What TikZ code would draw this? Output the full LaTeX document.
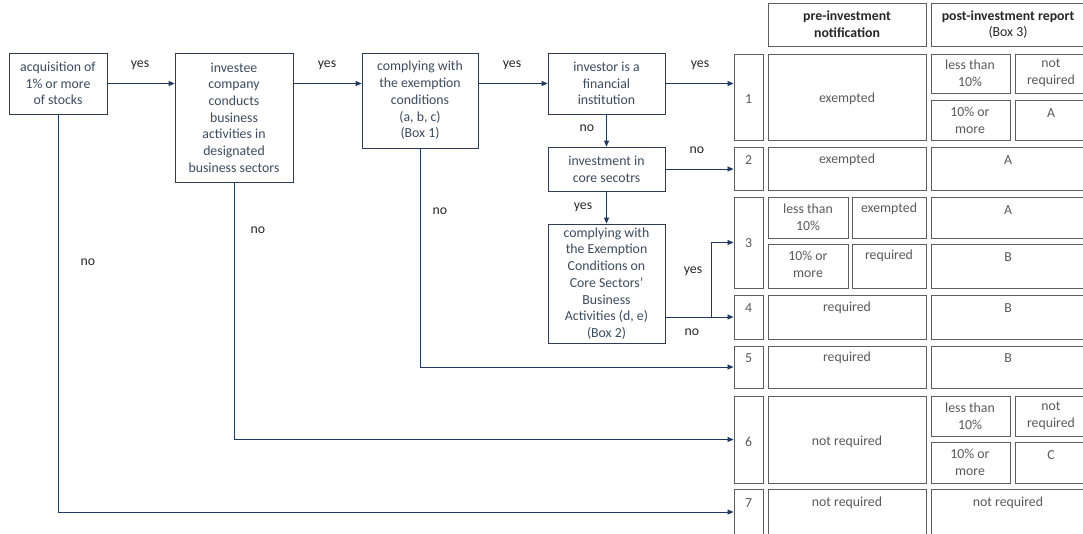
\documentclass[tikz,border=0pt]{standalone}
\usepackage{fontspec}
\setmainfont{Carlito}
\usetikzlibrary{arrows.meta,fit}
\definecolor{arrc}{HTML}{1F3864}
\definecolor{boxc}{HTML}{2E3B52}
\definecolor{flowtxt}{HTML}{3B4A5E}
\definecolor{tabtxt}{HTML}{595959}
\definecolor{tabline}{HTML}{5E5E5E}
\definecolor{labtxt}{HTML}{262626}
\newcommand\tcell[5]{\node[cell, fit={(#2,#3) (#4,#5)}] (#1) {};}
\begin{document}
\begin{tikzpicture}[x=1pt,y=-1pt,
  basefont/.style={font=\fontsize{13.8}{16.7}\selectfont},
  fbox/.style={basefont, draw=boxc, line width=0.8pt, align=center, inner sep=0pt, text=flowtxt},
  cell/.style={draw=tabline, line width=1pt, inner sep=0pt},
  ttxt/.style={basefont, align=center, inner sep=0pt, text=tabtxt},
  htxt/.style={basefont, align=center, inner sep=0pt, text=labtxt},
  lab/.style={basefont, inner sep=0pt, text=labtxt},
  arr/.style={draw=arrc, line width=0.8pt, -{Triangle[length=6pt,width=5pt]}}]
\useasboundingbox (0,0) rectangle (1083,533);
\clip (0,0) rectangle (1083,533);

% flow boxes
\node[fbox, minimum width=98pt, minimum height=61pt] (A) at (58,83.5) {acquisition of\\1\% or more\\of stocks};
\node[fbox, minimum width=118pt, minimum height=129pt] (B) at (234,117.5) {investee\\company\\conducts\\business\\activities in\\designated\\business sectors};
\node[fbox, minimum width=116pt, minimum height=95pt] (C) at (420,100.5) {complying with\\the exemption\\conditions\\(a, b, c)\\(Box 1)};
\node[fbox, minimum width=117pt, minimum height=61pt] (D) at (606.5,83.5) {investor is a\\financial\\institution};
\node[fbox, minimum width=117pt, minimum height=44pt] (E) at (606.5,169) {investment in\\core secotrs};
\node[fbox, minimum width=117pt, minimum height=119pt] (F) at (606.5,283.5) {complying with\\the Exemption\\Conditions on\\Core Sectors’\\Business\\Activities (d, e)\\(Box 2)};

% table cells
\tcell{hpre}{768}{3}{926}{46}
\tcell{hpost}{931}{3}{1090}{46}
\tcell{r1}{734}{54}{763}{140}
\tcell{r1p}{768}{54}{926}{140}
\tcell{r1a}{931}{54}{1010}{93}
\tcell{r1b}{1015}{54}{1090}{93}
\tcell{r1c}{931}{100}{1010}{140}
\tcell{r1d}{1015}{100}{1090}{140}
\tcell{r2}{734}{147}{763}{190}
\tcell{r2p}{768}{147}{926}{190}
\tcell{r2q}{931}{147}{1090}{190}
\tcell{r3}{734}{197}{763}{288}
\tcell{r3a}{768}{197}{848}{238}
\tcell{r3b}{852}{197}{926}{238}
\tcell{r3c}{768}{244}{848}{288}
\tcell{r3d}{852}{244}{926}{288}
\tcell{r3e}{931}{197}{1090}{238}
\tcell{r3f}{931}{244}{1090}{288}
\tcell{r4}{734}{295}{763}{339}
\tcell{r4p}{768}{295}{926}{339}
\tcell{r4q}{931}{295}{1090}{339}
\tcell{r5}{734}{346}{763}{388}
\tcell{r5p}{768}{346}{926}{388}
\tcell{r5q}{931}{346}{1090}{388}
\tcell{r6}{734}{396}{763}{483}
\tcell{r6p}{768}{396}{926}{483}
\tcell{r6a}{931}{396}{1010}{436}
\tcell{r6b}{1015}{396}{1090}{436}
\tcell{r6c}{931}{442}{1010}{483}
\tcell{r6d}{1015}{442}{1090}{483}
\tcell{r7}{734}{489}{763}{535}
\tcell{r7p}{768}{489}{926}{545}
\tcell{r7q}{931}{489}{1090}{545}

% table texts
\node[htxt] at (847,24.5) {\textbf{pre-investment}\\\textbf{notification}};
\node[htxt] at (1008,24.5) {\textbf{post-investment report}\\(Box 3)};
\node[ttxt] at (748.5,99) {1};
\node[ttxt] at (847,99) {exempted};
\node[ttxt] at (970,73) {less than\\10\%};
\node[ttxt] at (1051,73) {not\\required};
\node[ttxt] at (970,120.5) {10\% or\\more};
\node[ttxt] at (1051,113) {A};
\node[ttxt] at (748.5,160) {2};
\node[ttxt] at (847,160) {exempted};
\node[ttxt] at (1008,160) {A};
\node[ttxt] at (748.5,243) {3};
\node[ttxt] at (808,217) {less than\\10\%};
\node[ttxt] at (889,209) {exempted};
\node[ttxt] at (808,264.5) {10\% or\\more};
\node[ttxt] at (889,256) {required};
\node[ttxt] at (1008,210) {A};
\node[ttxt] at (1008,257) {B};
\node[ttxt] at (748.5,308) {4};
\node[ttxt] at (847,308) {required};
\node[ttxt] at (1008,308) {B};
\node[ttxt] at (748.5,358) {5};
\node[ttxt] at (847,358) {required};
\node[ttxt] at (1008,358) {B};
\node[ttxt] at (748.5,442) {6};
\node[ttxt] at (847,442) {not required};
\node[ttxt] at (970,416) {less than\\10\%};
\node[ttxt] at (1051,416) {not\\required};
\node[ttxt] at (970,462.5) {10\% or\\more};
\node[ttxt] at (1051,455) {C};
\node[ttxt] at (748.5,503) {7};
\node[ttxt] at (847,503) {not required};
\node[ttxt] at (1008,503) {not required};

% connectors
\draw[arr] (A.east) -- (A.east -| B.west);
\draw[arr] (B.east |- A.east) -- (C.west |- A.east);
\draw[arr] (C.east |- D.west) -- (D.west);
\draw[arr] (D.east) -- (D.east -| r1.west);
\draw[arr] (D.south) -- (E.north);
\draw[arr] (E.east) -- (E.east -| r2.west);
\draw[arr] (E.south) -- (F.north);
\draw[arr] (F.east |- r4.west) -- (r4.west);
\coordinate (br) at (711,317);
\draw[arr] (br) |- (r3.west);
\draw[arr] (C.south) |- (r5.west);
\draw[arr] (B.south) |- (r6.west);
\draw[arr] (A.south) |- (r7.west);

% labels
\node[lab] at (140,65) {yes};
\node[lab] at (327,65) {yes};
\node[lab] at (512,65) {yes};
\node[lab] at (700,65) {yes};
\node[lab] at (587,128) {no};
\node[lab] at (697,150) {no};
\node[lab] at (583,207) {yes};
\node[lab] at (693,271) {yes};
\node[lab] at (692,332) {no};
\node[lab] at (440,211) {no};
\node[lab] at (258,230) {no};
\node[lab] at (88,262) {no};
\end{tikzpicture}
\end{document}
